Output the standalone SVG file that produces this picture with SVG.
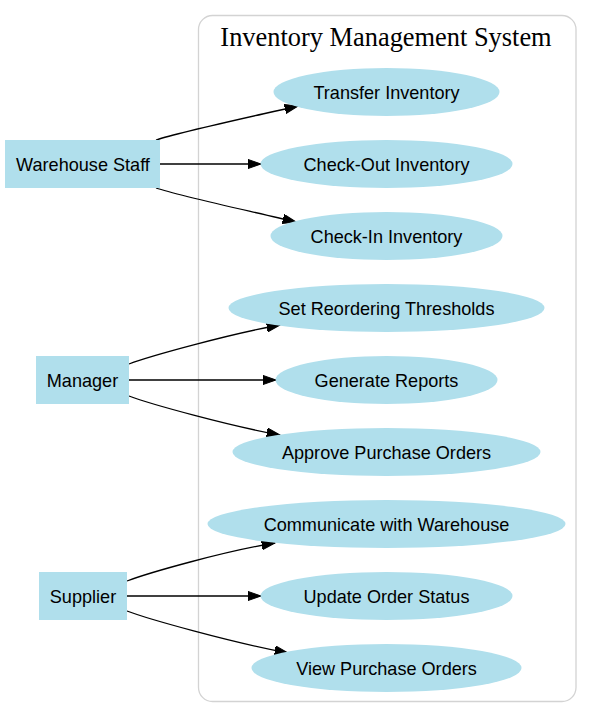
<svg xmlns="http://www.w3.org/2000/svg" width="592" height="719" viewBox="0 0 592 719">
<style>
.actor rect{fill:#b0dfec;stroke:none}
.uc ellipse{fill:#b0dfec;stroke:none}
text.lbl{font-family:"Liberation Sans",Arial,sans-serif;font-size:18.1px;fill:#000;text-anchor:middle;dominant-baseline:central}
.title{font-family:"Liberation Serif","Times New Roman",serif;font-size:26.4px;fill:#000;text-anchor:middle}
#edges path{fill:none;stroke:#000;stroke-width:1.3;marker-end:url(#arr)}
</style>
<defs>
<marker id="arr" markerUnits="userSpaceOnUse" markerWidth="14" markerHeight="10" refX="13.3" refY="4.67" orient="auto" viewBox="0 0 14 10">
<path d="M0,0 L13.3,4.67 L0,9.33 Z" fill="#000" stroke="#000" stroke-width="1"/>
</marker>
</defs>
<rect width="592" height="719" fill="#fff"/>
<g id="cluster">
<rect x="198.5" y="15.5" width="377.5" height="686" rx="14" fill="none" stroke="#d3d3d3" stroke-width="1.3"/>
<text class="title" x="386" y="46">Inventory Management System</text>
</g>
<g id="edges">
<path d="M156,140 C180,132 250,117 298,106"/>
<path d="M160,164 L261,164"/>
<path d="M156,188 C180,196 250,211 296,222"/>
<path d="M129,364 C150,356 230,334 280,325"/>
<path d="M129,380 L276,380"/>
<path d="M129,396 C150,404 230,426 280,435"/>
<path d="M127,581 C148,573 225,551 275,543"/>
<path d="M127,596 L261,596"/>
<path d="M127,611 C148,619 230,642 288,653"/>
</g>
<g id="warehouse_staff" class="actor"><rect x="5" y="140" width="155" height="48"/><text class="lbl" x="83" y="165">Warehouse Staff</text></g>
<g id="manager" class="actor"><rect x="36" y="356" width="93" height="48"/><text class="lbl" x="82.5" y="381">Manager</text></g>
<g id="supplier" class="actor"><rect x="39" y="572" width="88" height="48"/><text class="lbl" x="83" y="597">Supplier</text></g>
<g id="transfer_inventory" class="uc"><ellipse cx="386.5" cy="92" rx="113" ry="24"/><text class="lbl" x="386.5" y="93">Transfer Inventory</text></g>
<g id="check_out_inventory" class="uc"><ellipse cx="386.5" cy="164" rx="126" ry="24"/><text class="lbl" x="386.5" y="165">Check-Out Inventory</text></g>
<g id="check_in_inventory" class="uc"><ellipse cx="386.5" cy="236" rx="116" ry="24"/><text class="lbl" x="386.5" y="237">Check-In Inventory</text></g>
<g id="set_reordering_thresholds" class="uc"><ellipse cx="386.5" cy="308" rx="158" ry="24"/><text class="lbl" x="386.5" y="309">Set Reordering Thresholds</text></g>
<g id="generate_reports" class="uc"><ellipse cx="386.5" cy="380" rx="111" ry="24"/><text class="lbl" x="386.5" y="381">Generate Reports</text></g>
<g id="approve_purchase_orders" class="uc"><ellipse cx="386.5" cy="452" rx="154" ry="24"/><text class="lbl" x="386.5" y="453">Approve Purchase Orders</text></g>
<g id="communicate_with_warehouse" class="uc"><ellipse cx="386.5" cy="524" rx="179" ry="24"/><text class="lbl" x="386.5" y="525">Communicate with Warehouse</text></g>
<g id="update_order_status" class="uc"><ellipse cx="386.5" cy="596" rx="126" ry="24"/><text class="lbl" x="386.5" y="597">Update Order Status</text></g>
<g id="view_purchase_orders" class="uc"><ellipse cx="386.5" cy="668" rx="135" ry="24"/><text class="lbl" x="386.5" y="669">View Purchase Orders</text></g>
</svg>
